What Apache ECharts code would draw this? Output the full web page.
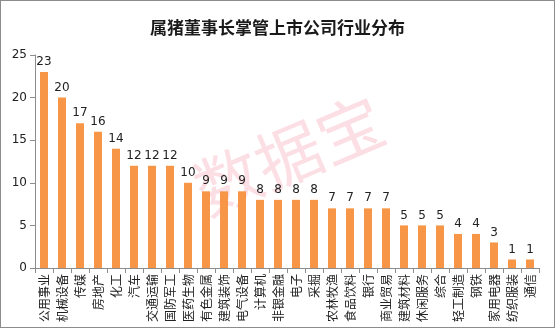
<!DOCTYPE html>
<html>
<head>
<meta charset="utf-8">
<script src="https://cdn.jsdelivr.net/npm/echarts@6/dist/echarts.min.js"></script>
<style>
  html, body { margin: 0; padding: 0; background: #fff; }
  #chart { width: 555px; height: 328px; box-sizing: border-box; border: 1px solid #8c8c8c; }
</style>
</head>
<body>
<div id="chart"></div>
<script>
// 属猪董事长掌管的上市公司，按申万行业统计家数
const industries = ['公用事业', '机械设备', '传媒', '房地产', '化工', '汽车', '交通运输', '国防军工',
  '医药生物', '有色金属', '建筑装饰', '电气设备', '计算机', '非银金融', '电子', '采掘',
  '农林牧渔', '食品饮料', '银行', '商业贸易', '建筑材料', '休闲服务', '综合', '轻工制造',
  '钢铁', '家用电器', '纺织服装', '通信'];
const companyCounts = [23, 20, 17, 16, 14, 12, 12, 12, 10, 9, 9, 9, 8, 8, 8, 8,
  7, 7, 7, 7, 5, 5, 5, 4, 4, 3, 1, 1];
const yTicks = [0, 5, 10, 15, 20, 25];

const chart = echarts.init(document.getElementById('chart'));
const axisGray = '#8c8c8c';

chart.setOption({
  animation: false,
  title: {
    text: '属猪董事长掌管上市公司行业分布',
    left: 'center',
    top: 13,
    textStyle: { fontFamily: 'Noto Sans CJK SC', fontSize: 17, fontWeight: 'bold', color: '#1a1a1a' }
  },
  graphic: [{
    type: 'text',
    x: 288, y: 154,
    rotation: 0.4,
    silent: true,
    z: 0,
    style: {
      text: '数据宝',
      fontFamily: 'Noto Sans CJK SC',
      fontSize: 66,
      fill: 'rgba(240, 110, 130, 0.22)',
      align: 'center',
      verticalAlign: 'middle'
    }
  }],
  grid: { left: 34, right: 15, top: 54, bottom: 59, containLabel: false },
  xAxis: {
    type: 'category',
    data: industries,
    axisLine: { lineStyle: { color: axisGray } },
    axisTick: { show: true, alignWithLabel: false, length: 5, lineStyle: { color: axisGray } },
    axisLabel: {
      interval: 0,
      rotate: 90,
      margin: 6,
      fontFamily: 'Noto Sans CJK SC',
      fontSize: 12,
      color: '#222'
    }
  },
  yAxis: {
    type: 'value',
    min: yTicks[0],
    max: yTicks[yTicks.length - 1],
    interval: 5,
    splitLine: { show: false },
    axisLine: { show: true, lineStyle: { color: axisGray } },
    axisTick: { show: true, length: 5, lineStyle: { color: axisGray } },
    axisLabel: { fontFamily: 'DejaVu Sans', fontSize: 12, color: '#222', margin: 8 }
  },
  series: [{
    type: 'bar',
    data: companyCounts,
    barWidth: 8,
    itemStyle: { color: '#F79646' },
    label: {
      show: true,
      position: 'top',
      distance: 4,
      fontFamily: 'DejaVu Sans',
      fontSize: 12,
      color: '#222'
    },
    z: 2
  }]
});
</script>
</body>
</html>
